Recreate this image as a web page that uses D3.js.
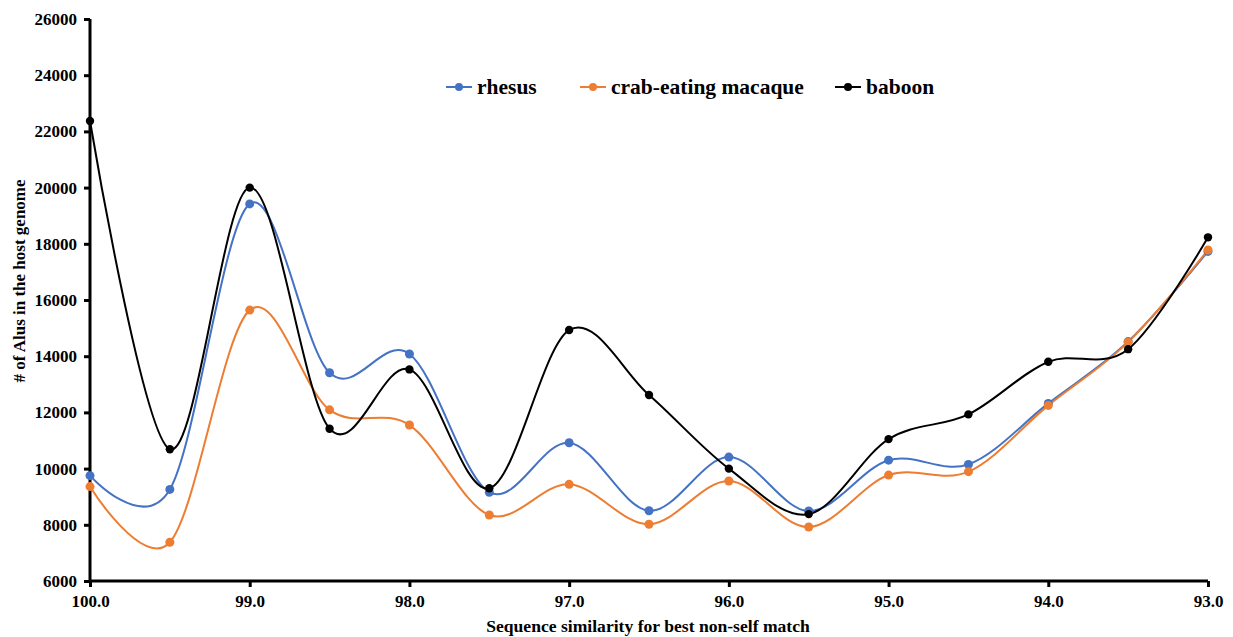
<!DOCTYPE html>
<html>
<head>
<meta charset="utf-8">
<script src="https://cdn.jsdelivr.net/npm/d3@7"></script>
<style>
  body { margin: 0; background: #fff; }
</style>
</head>
<body>
<div id="chart"></div>
<script>
// similarity bins (x), one point every 0.5
var similarity = [100.0, 99.5, 99.0, 98.5, 98.0, 97.5, 97.0, 96.5, 96.0, 95.5, 95.0, 94.5, 94.0, 93.5, 93.0];
var rhesus   = [9750, 9260, 19420, 13410, 14080, 9160, 10920, 8500, 10410, 8490, 10300, 10150, 12320, 14520, 17730];
var crab     = [9360, 7380, 15640, 12090, 11550, 8350, 9440, 8020, 9560, 7920, 9770, 9890, 12250, 14500, 17780];
var baboon   = [22370, 10690, 20000, 11420, 13530, 9300, 14930, 12620, 10000, 8380, 11050, 11930, 13800, 14250, 18230];
var xTicks = [100, 99, 98, 97, 96, 95, 94, 93];
var yTicks = [6000, 8000, 10000, 12000, 14000, 16000, 18000, 20000, 22000, 24000, 26000];
var seriesNames = ["rhesus", "crab-eating macaque", "baboon"];

var FONT = "'Liberation Serif', 'DejaVu Serif', serif";

var width = 1233, height = 637;
var svg = d3.select("#chart").append("svg").attr("width", width).attr("height", height)
  .style("font-family", FONT).style("font-weight", "bold");

var x = d3.scaleLinear().domain([100, 93]).range([90, 1208]);
var y = d3.scaleLinear().domain([6000, 26000]).range([581, 19]);

var series = [
  {name: seriesNames[0], values: rhesus, color: "#4472C4", r: 4.5},
  {name: seriesNames[1], values: crab,   color: "#ED7D31", r: 4.5},
  {name: seriesNames[2], values: baboon, color: "#000000", r: 4.2}
];

// axes
var yAxis = svg.append("g").attr("transform", "translate(" + x(100) + ",0)")
  .call(d3.axisLeft(y).tickValues(yTicks).tickFormat(d3.format("d")).tickSize(6).tickPadding(7));
var xAxis = svg.append("g").attr("transform", "translate(0," + y(6000) + ")")
  .call(d3.axisBottom(x).tickValues(xTicks).tickFormat(d3.format(".1f")).tickSize(6).tickPadding(8));
[yAxis, xAxis].forEach(function(g){
  g.attr("font-family", FONT).attr("font-size", 17).attr("font-weight", "bold");
  g.select(".domain").attr("stroke", "#000").attr("stroke-width", 3);
  g.selectAll(".tick line").attr("stroke", "#000").attr("stroke-width", 3);
  g.selectAll(".tick text").style("font-family", FONT).attr("fill", "#000");
});
yAxis.select(".domain").attr("d", "M0," + y(6000) + "V" + y(26000));
xAxis.select(".domain").attr("d", "M" + x(100) + ",0H" + x(93));

// lines (Excel-style smoothing)
var line = d3.line()
  .x(function(d, i){ return x(similarity[i]); })
  .y(function(d){ return y(d); })
  .curve(d3.curveCardinal.tension(0));

series.forEach(function(s){
  svg.append("path").datum(s.values).attr("d", line)
    .attr("fill", "none").attr("stroke", s.color).attr("stroke-width", 2);
});
series.forEach(function(s){
  svg.selectAll(null).data(s.values).enter().append("circle")
    .attr("cx", function(d, i){ return x(similarity[i]); })
    .attr("cy", function(d){ return y(d); })
    .attr("r", s.r).attr("fill", s.color);
});

// legend
var legendX = [446, 580, 835];
series.forEach(function(s, i){
  var g = svg.append("g").attr("transform", "translate(" + legendX[i] + ",87)");
  g.append("line").attr("x1", 0).attr("x2", 26).attr("y1", 0).attr("y2", 0)
    .attr("stroke", s.color).attr("stroke-width", 2);
  g.append("circle").attr("cx", 13).attr("cy", 0).attr("r", 4).attr("fill", s.color);
  g.append("text").attr("x", 31).attr("y", 6.5).attr("font-size", 21.5)
    .style("font-family", FONT).text(s.name);
});

// axis titles
svg.append("text").attr("x", 648).attr("y", 632).attr("text-anchor", "middle")
  .attr("font-size", 17.6).style("font-family", FONT).text("Sequence similarity for best non-self match");
svg.append("text").attr("transform", "translate(25,281) rotate(-90)").attr("text-anchor", "middle")
  .attr("font-size", 17).style("font-family", FONT).text("# of Alus in the host genome");
</script>
</body>
</html>
